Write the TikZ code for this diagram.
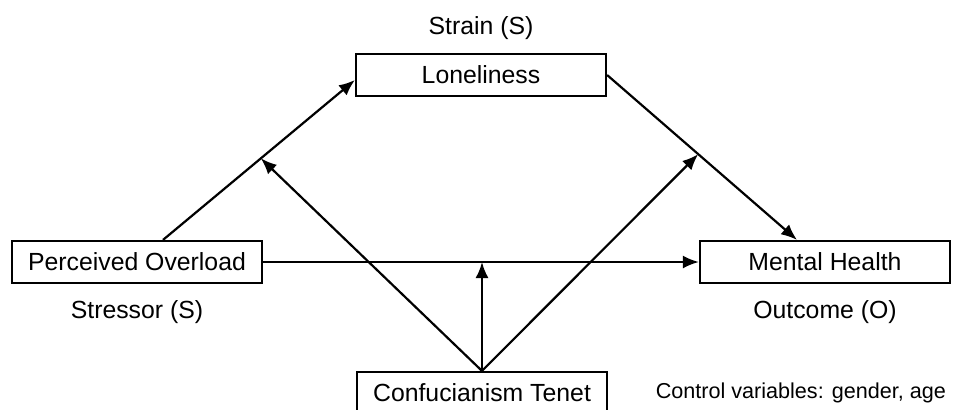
\documentclass[tikz,border=0pt]{standalone}
\usepackage{fontspec}
\setmainfont{Liberation Sans}
\usepackage{tikz}
\usetikzlibrary{calc}
\usetikzlibrary{positioning}
\usetikzlibrary{arrows.meta}

\begin{document}
\begin{tikzpicture}[
        x=0.5pt, y=-0.5pt,
        varbox/.style={draw, line width=1.1pt, minimum width=125pt, minimum height=21pt, inner sep=0pt, font=\fontsize{12.4}{14}\selectfont},
        role/.style={font=\fontsize{12.4}{14}\selectfont},
        path/.style={line width=1.1pt, -{Latex[length=8pt,width=6.5pt]}}]

        \useasboundingbox (0,0) rectangle (954,409);

        \node[varbox] (lon) at (481,75) {Loneliness};
        \node[varbox] (po) at (137,262) {Perceived Overload};
        \node[varbox] (mh) at (825,262) {Mental Health};
        \node[varbox] (ct) at (482,393) {Confucianism Tenet};

        \node[role] (strain) at (481,28) {Strain (S)};
        \node[role] (stressor) at (137,312) {Stressor (S)};
        \node[role] (outcome) at (825,312) {Outcome (O)};
        \node[font=\fontsize{10.8}{13}\selectfont, anchor=east] (ctrl) at (953,393) {Control variables: gender, age};

        \coordinate (a1) at ([xshift=13pt]po.north);
        \coordinate (a2) at ([yshift=-2.5pt]lon.west);
        \coordinate (b2) at ([xshift=-14pt]mh.north);

        \draw[path] (a1) to (a2);
        \draw[path] (lon.east) to (b2);
        \draw[path] (po.east) to (mh.west);
        \draw[path] (ct.north) to ($(a1)!0.51!(a2)$);
        \draw[path] (ct.north) to ($(lon.east)!0.48!(b2)$);
        \draw[path] (ct.north) to (ct.north |- po.east);

    \end{tikzpicture}
\end{document}
